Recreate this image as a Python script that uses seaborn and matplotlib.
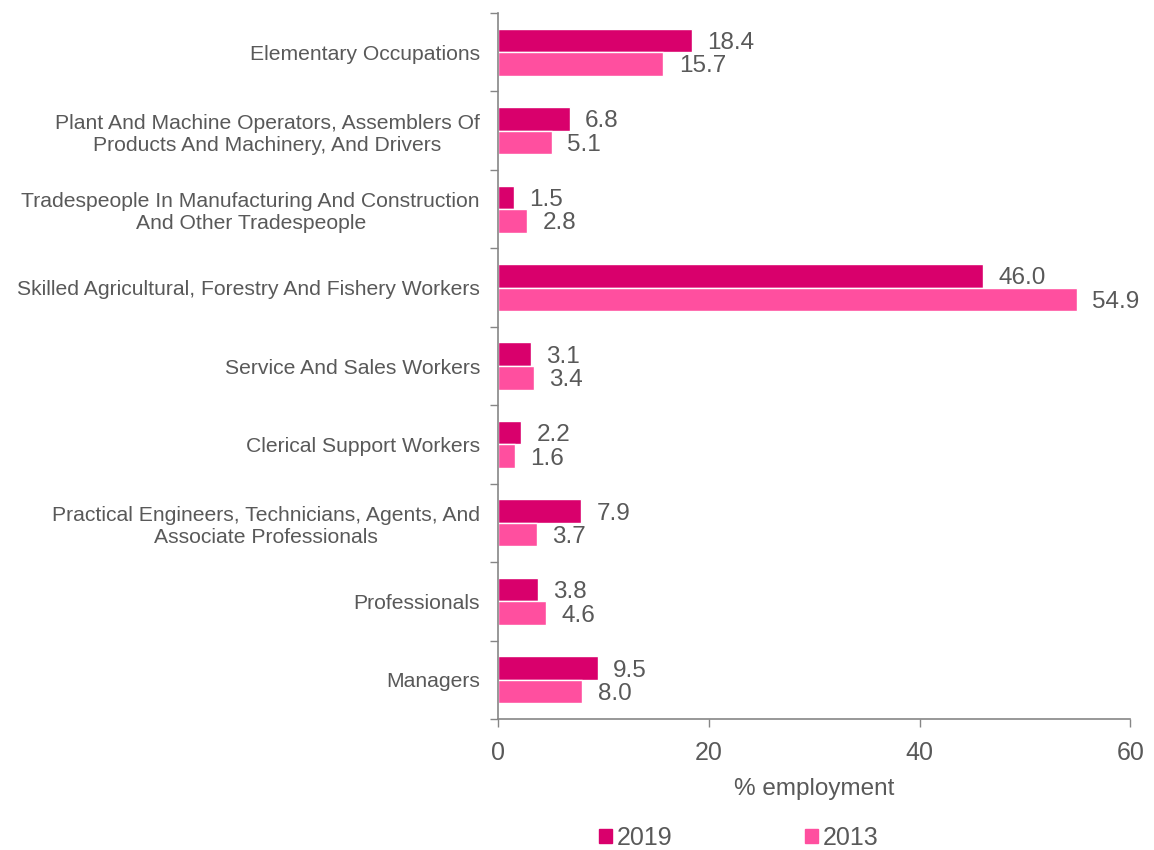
import matplotlib
matplotlib.use("Agg")
import matplotlib.pyplot as plt
import seaborn as sns
import pandas as pd
import numpy as np

categories = [
    "Elementary Occupations",
    "Plant And Machine Operators, Assemblers Of\nProducts And Machinery, And Drivers",
    "Tradespeople In Manufacturing And Construction\nAnd Other Tradespeople",
    "Skilled Agricultural, Forestry And Fishery Workers",
    "Service And Sales Workers",
    "Clerical Support Workers",
    "Practical Engineers, Technicians, Agents, And\nAssociate Professionals",
    "Professionals",
    "Managers",
]
values_2019 = [18.4, 6.8, 1.5, 46.0, 3.1, 2.2, 7.9, 3.8, 9.5]
values_2013 = [15.7, 5.1, 2.8, 54.9, 3.4, 1.6, 3.7, 4.6, 8.0]
years = ["2019", "2013"]
colors = {"2019": "#D9006C", "2013": "#FF4F9F"}

df = pd.DataFrame({
    "category": categories * 2,
    "value": values_2019 + values_2013,
    "year": ["2019"] * len(categories) + ["2013"] * len(categories),
})

sns.set_theme(style="white")
plt.rcParams["font.family"] = ["Liberation Sans", "DejaVu Sans"]
grey = "#595959"
axis_grey = "#868686"

fig = plt.figure(figsize=(11.54, 8.5), dpi=100)
ax = fig.add_axes([0.4315, 0.1541, 0.548, 0.8306])

sns.barplot(data=df, y="category", x="value", hue="year", order=categories,
            hue_order=years, palette=colors, orient="h", width=0.6,
            saturation=1, ax=ax, legend=True)

for cont in ax.containers:
    anns = ax.bar_label(cont, fmt="%.1f", padding=11, fontsize=17.5, color=grey)
    for a in anns:
        x_off, y_off = a.xyann
        a.xyann = (x_off, y_off - 1.8)

ax.set_xlim(0, 60)
ax.set_xticks([0, 20, 40, 60])
ax.set_ylim(len(categories) - 0.5, -0.5)
ax.set_xlabel("% employment", fontsize=17.5, color=grey, labelpad=9)
ax.set_ylabel("")
ax.tick_params(axis="x", labelsize=18, colors=grey, length=6, direction="out",
               color=axis_grey, width=1, pad=10, bottom=True)
ax.tick_params(axis="y", which="major", labelsize=15.2, colors=grey, length=0, pad=13)
for lbl in ax.get_yticklabels():
    lbl.set_multialignment("center")
ax.set_yticks(np.arange(-0.5, len(categories) + 0.5, 1), minor=True)
ax.tick_params(axis="y", which="minor", length=6, direction="out", color=axis_grey,
               width=1, left=True)

for s in ["top", "right"]:
    ax.spines[s].set_visible(False)
for s in ["left", "bottom"]:
    ax.spines[s].set_color(axis_grey)
    ax.spines[s].set_linewidth(1.2)

ax.get_legend().remove()
handles = [plt.Rectangle((0, 0), 1, 1, color=colors[y]) for y in years]
fig.legend(handles, years, loc="center", bbox_to_anchor=(0.640, 0.0141), ncol=2,
           frameon=False, fontsize=18, labelcolor=grey, handlelength=0.52,
           handleheight=0.52, handletextpad=0.2, columnspacing=5.3,
           borderpad=0, borderaxespad=0)

fig.savefig("out.png", dpi=100)
